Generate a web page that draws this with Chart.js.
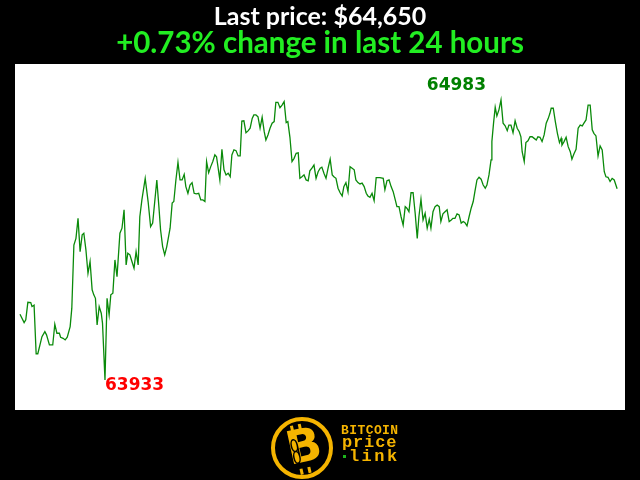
<!DOCTYPE html>
<html>
<head>
<meta charset="utf-8">
<title>Bitcoin price - last 24 hours</title>
<script src="https://cdn.jsdelivr.net/npm/chart.js@4/dist/chart.umd.min.js"></script>
<style>
    html, body { margin: 0; padding: 0; background: #000; }
    #wrap { width: 640px; height: 480px; position: relative; }
</style>
</head>
<body>
<div id="wrap"><canvas id="priceChart" width="640" height="480"></canvas></div>
<script>
// Header texts
const lastPriceText = 'Last price: $64,650';
const changeText = '+0.73% change in last 24 hours';

// Minutes since the start of the 24h window
const minutes = [
    0, 10, 14, 19, 26, 29, 34, 39, 43, 53,
    60, 64, 71, 79, 84, 89, 95, 98, 104, 109,
    114, 121, 125, 130, 135, 140, 145, 150, 154, 159,
    164, 169, 174, 178, 182, 186, 191, 196, 199, 205,
    210, 215, 219, 224, 229, 234, 241, 246, 251, 256,
    260, 265, 270, 275, 280, 285, 289, 294, 302, 309,
    315, 320, 330, 335, 339, 344, 349, 354, 362, 367,
    371, 376, 381, 386, 391, 396, 400, 405, 410, 415,
    420, 425, 431, 436, 441, 446, 450, 455, 460, 465,
    470, 474, 482, 487, 492, 497, 502, 507, 511, 516,
    521, 526, 531, 535, 540, 545, 550, 555, 560, 564,
    569, 574, 579, 584, 589, 593, 598, 603, 608, 613,
    617, 622, 627, 632, 637, 642, 646, 651, 656, 661,
    666, 671, 675, 680, 685, 690, 695, 699, 704, 709,
    714, 719, 724, 728, 733, 738, 743, 748, 753, 757,
    762, 767, 772, 777, 781, 786, 791, 796, 801, 806,
    810, 815, 820, 825, 830, 835, 839, 844, 849, 854,
    859, 863, 868, 876, 880, 885, 890, 895, 900, 905,
    909, 914, 919, 924, 929, 933, 938, 943, 948, 953,
    958, 962, 967, 972, 977, 982, 987, 991, 996, 1001,
    1006, 1011, 1015, 1020, 1025, 1030, 1035, 1040, 1044, 1049,
    1054, 1059, 1064, 1069, 1073, 1078, 1083, 1088, 1093, 1097,
    1102, 1107, 1112, 1117, 1122, 1126, 1131, 1136, 1138, 1142,
    1146, 1150, 1155, 1160, 1165, 1170, 1175, 1179, 1184, 1189,
    1194, 1199, 1204, 1208, 1211, 1216, 1220, 1225, 1230, 1235,
    1240, 1245, 1249, 1254, 1259, 1264, 1269, 1274, 1278, 1281,
    1286, 1291, 1296, 1301, 1305, 1307, 1312, 1317, 1322, 1327,
    1331, 1336, 1341, 1346, 1351, 1356, 1360, 1365, 1370, 1375,
    1380, 1384, 1389, 1394, 1399, 1404, 1409, 1413, 1418, 1423,
    1428, 1433, 1440
];

// BTC price in USD
const prices = [
    64179, 64148, 64158, 64224, 64223, 64208, 64213, 64031, 64031, 64095,
    64114, 64102, 64064, 64064, 64142, 64108, 64108, 64093, 64089, 64083,
    64093, 64133, 64202, 64439, 64464, 64539, 64414, 64477, 64483, 64421,
    64333, 64377, 64271, 64252, 64239, 64139, 64208, 64183, 64146, 63933,
    64239, 64177, 64252, 64258, 64383, 64320, 64483, 64502, 64571, 64364,
    64408, 64402, 64377, 64352, 64414, 64364, 64545, 64608, 64689, 64602,
    64508, 64521, 64683, 64583, 64496, 64433, 64402, 64433, 64502, 64596,
    64602, 64683, 64749, 64683, 64683, 64704, 64658, 64633, 64664, 64673,
    64633, 64631, 64633, 64608, 64608, 64602, 64752, 64710, 64733, 64752,
    64777, 64770, 64683, 64798, 64721, 64702, 64708, 64695, 64777, 64796,
    64793, 64773, 64773, 64904, 64905, 64860, 64867, 64877, 64914, 64927,
    64927, 64920, 64877, 64918, 64864, 64833, 64852, 64877, 64896, 64902,
    64974, 64974, 64954, 64964, 64977, 64898, 64902, 64843, 64752, 64764,
    64783, 64785, 64689, 64695, 64702, 64683, 64680, 64717, 64727, 64739,
    64689, 64714, 64727, 64731, 64708, 64689, 64727, 64761, 64702, 64695,
    64689, 64652, 64635, 64623, 64658, 64673, 64639, 64733, 64727, 64721,
    64683, 64673, 64668, 64671, 64658, 64633, 64623, 64618, 64633, 64605,
    64692, 64692, 64692, 64689, 64646, 64680, 64683, 64658, 64639, 64608,
    64583, 64583, 64545, 64514, 64583, 64577, 64564, 64635, 64635, 64558,
    64464, 64545, 64611, 64533, 64558, 64502, 64536, 64502, 64564, 64583,
    64589, 64583, 64527, 64556, 64564, 64571, 64527, 64533, 64539, 64539,
    64556, 64552, 64521, 64527, 64523, 64511, 64545, 64577, 64602, 64639,
    64683, 64693, 64686, 64664, 64652, 64664, 64702, 64758, 64827, 64896,
    64956, 64923, 64946, 64983, 64896, 64886, 64868, 64889, 64889, 64860,
    64905, 64877, 64864, 64845, 64789, 64752, 64823, 64830, 64845, 64845,
    64839, 64833, 64845, 64843, 64827, 64852, 64896, 64914, 64933, 64952,
    64952, 64902, 64858, 64823, 64839, 64814, 64827, 64843, 64808, 64789,
    64761, 64781, 64798, 64877, 64889, 64886, 64896, 64908, 64964, 64964,
    64871, 64858, 64848, 64773, 64811, 64796, 64714, 64695, 64693, 64677,
    64689, 64683, 64650
];

const GOLD = '#f5b400';

// Black page, white plot box, header and the low/high labels
const framePlugin = {
    id: 'frame',
    beforeDraw(chart) {
        const { ctx, chartArea } = chart;
        ctx.save();
        ctx.fillStyle = '#000';
        ctx.fillRect(0, 0, chart.width, chart.height);
        ctx.fillStyle = '#fff';
        ctx.fillRect(chartArea.left, chartArea.top,
            chartArea.right - chartArea.left, chartArea.bottom - chartArea.top);
        ctx.restore();
    },
    afterDraw(chart) {
        const { ctx } = chart;
        const xs = chart.scales.x, ys = chart.scales.y;
        ctx.save();

        // header
        ctx.textAlign = 'center';
        ctx.textBaseline = 'alphabetic';
        ctx.fillStyle = '#fff';
        ctx.font = 'bold 25px Lato';
        ctx.fillText(lastPriceText, chart.width / 2, 25);
        ctx.fillStyle = '#22ee22';
        ctx.font = 'bold 29.5px Lato';
        ctx.fillText(changeText, chart.width / 2, 53);

        // low / high of the day
        const lo = prices.indexOf(Math.min(...prices));
        const hi = prices.indexOf(Math.max(...prices));
        ctx.font = 'bold 17px "DejaVu Sans"';
        ctx.fillStyle = '#ff0000';
        ctx.textAlign = 'left';
        ctx.fillText(String(prices[lo]),
            xs.getPixelForValue(minutes[lo]), ys.getPixelForValue(prices[lo]) + 10);
        ctx.fillStyle = '#008000';
        ctx.textAlign = 'right';
        ctx.fillText(String(prices[hi]),
            xs.getPixelForValue(minutes[hi]) - 15, ys.getPixelForValue(prices[hi]) - 10);

        drawLogo(ctx);
        ctx.restore();
    }
};

// bitcoinprice.link badge under the chart
function drawLogo(ctx) {
    const cx = 302, cy = 448;
    ctx.save();
    ctx.strokeStyle = GOLD;
    ctx.lineWidth = 4;
    ctx.beginPath();
    ctx.arc(cx, cy, 29, 0, Math.PI * 2);
    ctx.stroke();

    ctx.translate(cx, cy);
    ctx.rotate(-0.22);
    ctx.fillStyle = GOLD;
    ctx.textAlign = 'center';
    ctx.textBaseline = 'middle';
    ctx.font = 'bold 46px "DejaVu Sans"';
    ctx.fillText('B', 2, 2);
    ctx.fillRect(-7, -24, 3, 6);
    ctx.fillRect(1, -24, 3, 6);
    ctx.fillRect(-7, 20, 3, 6);
    ctx.fillRect(1, 20, 3, 6);
    // chain link in the stem
    ctx.strokeStyle = '#000';
    ctx.lineWidth = 1.5;
    ctx.beginPath();
    ctx.ellipse(-7, -4, 3, 6, 0, 0, Math.PI * 2);
    ctx.ellipse(-7, 8, 3, 6, 0, 0, Math.PI * 2);
    ctx.stroke();
    ctx.restore();

    ctx.save();
    ctx.fillStyle = GOLD;
    ctx.textAlign = 'center';
    ctx.textBaseline = 'alphabetic';
    ctx.font = 'bold 13px "Liberation Mono"';
    'BITCOIN'.split('').forEach((ch, i) => ctx.fillText(ch, 345 + i * 8.2, 434));
    ctx.font = 'bold 17px "Liberation Mono"';
    'price'.split('').forEach((ch, i) => ctx.fillText(ch, 347 + i * 11.1, 447));
    'link'.split('').forEach((ch, i) => ctx.fillText(ch, 354 + i * 12.7, 461));
    ctx.fillStyle = '#1db31d';
    ctx.fillRect(343, 455, 3, 3);
    ctx.restore();
}

const ctx = document.getElementById('priceChart').getContext('2d');
new Chart(ctx, {
    type: 'line',
    data: {
        datasets: [{
            data: minutes.map((m, i) => ({ x: m, y: prices[i] })),
            borderColor: '#0a8a0a',
            borderWidth: 1.3,
            pointRadius: 0,
            tension: 0,
            fill: false
        }]
    },
    options: {
        responsive: false,
        animation: false,
        layout: { padding: { left: 15, right: 15, top: 64, bottom: 70 } },
        plugins: {
            legend: { display: false },
            tooltip: { enabled: false }
        },
        scales: {
            x: { type: 'linear', min: -12, max: 1459, display: false },
            y: { min: 63820, max: 65118, display: false }
        }
    },
    plugins: [framePlugin]
});
</script>
</body>
</html>
